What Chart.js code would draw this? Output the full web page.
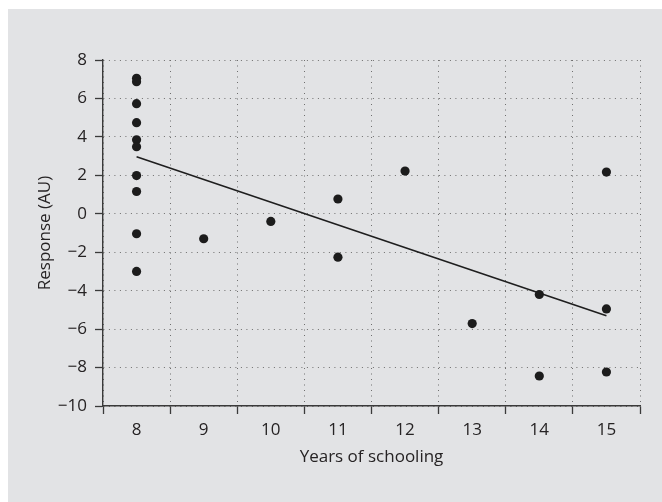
<!DOCTYPE html>
<html lang="en">
<head>
    <meta charset="UTF-8">
    <title>Response vs years of schooling</title>
    <script src="https://cdn.jsdelivr.net/npm/chart.js"></script>
    <style>
        body { margin: 0; background: #ffffff; }
        .chart-box {
            position: absolute; left: 8px; top: 9px;
            width: 654px; height: 493px;
            background: #e2e3e5;
        }
    </style>
</head>
<body>
    <div class="chart-box">
        <canvas id="schoolingChart"></canvas>
    </div>

    <script>
        const yearLabels = ['8', '9', '10', '11', '12', '13', '14', '15'];
        const schoolingYears = [8, 8, 8, 8, 8, 8, 8, 8, 8, 8, 9, 10, 11, 11, 12, 13, 14, 14, 15, 15, 15];
        const responses = [7.05, 6.87, 5.73, 4.74, 3.85, 3.49, 1.99, 1.16, -1.04, -3.0,
                           -1.30, -0.40, 0.77, -2.26, 2.22, -5.71, -4.20, -8.44, 2.17, -4.95, -8.23];
        const fitYears = [8, 15];
        const fitResponses = [2.97, -5.30];

        const textColor = '#262324';
        const axisColor = '#3a3a3a';
        const dotGrid = '#6e6e6e';
        const fontFamily = '"Open Sans", sans-serif';

        function toPoints(xs, ys) {
            return xs.map((x, i) => ({ x: String(x), y: ys[i] }));
        }

        function minusLabel(value) {
            return value < 0 ? '\u2212' + Math.abs(value) : String(value);
        }

        const ctx = document.getElementById('schoolingChart').getContext('2d');
        new Chart(ctx, {
            type: 'line',
            data: {
                labels: yearLabels,
                datasets: [
                    {
                        label: 'Subjects',
                        data: toPoints(schoolingYears, responses),
                        showLine: false,
                        pointRadius: 4.6,
                        pointBorderWidth: 0,
                        pointBackgroundColor: '#1c1c1c',
                        pointBorderColor: '#1c1c1c'
                    },
                    {
                        label: 'Fit',
                        data: toPoints(fitYears, fitResponses),
                        borderColor: '#1e1e1e',
                        borderWidth: 1.6,
                        pointRadius: 0,
                        fill: false
                    }
                ]
            },
            options: {
                responsive: true,
                maintainAspectRatio: false,
                animation: false,
                layout: { padding: { top: 51, right: 22, left: 0, bottom: 0 } },
                plugins: {
                    legend: { display: false },
                    tooltip: { enabled: false }
                },
                scales: {
                    x: {
                        type: 'category',
                        offset: true,
                        afterFit: scale => { scale.height = 96; },
                        grid: {
                            offset: true,
                            color: dotGrid,
                            lineWidth: 1,
                            tickLength: 8,
                            tickColor: axisColor,
                            tickWidth: 1.3,
                            tickBorderDash: []
                        },
                        border: { display: true, color: axisColor, width: 1.4, dash: [1, 4.5] },
                        ticks: {
                            color: textColor,
                            padding: 6,
                            font: { family: fontFamily, size: 17 }
                        },
                        title: {
                            display: true,
                            text: 'Years of schooling',
                            color: textColor,
                            font: { family: fontFamily, size: 17 },
                            padding: { top: 0, bottom: 35 }
                        }
                    },
                    y: {
                        min: -10,
                        max: 8,
                        afterFit: scale => { scale.width = 95; },
                        grid: {
                            color: dotGrid,
                            lineWidth: 1,
                            tickLength: 8,
                            tickColor: axisColor,
                            tickWidth: 1.3,
                            tickBorderDash: []
                        },
                        border: { display: true, color: axisColor, width: 1.4, dash: [1, 4.5] },
                        ticks: {
                            stepSize: 2,
                            color: textColor,
                            padding: 8,
                            font: { family: fontFamily, size: 17 },
                            callback: value => minusLabel(value)
                        },
                        title: {
                            display: true,
                            text: 'Response (AU)',
                            color: textColor,
                            font: { family: fontFamily, size: 17 },
                            padding: { top: 27, bottom: 0 }
                        }
                    }
                }
            }
        });
    </script>
</body>
</html>
